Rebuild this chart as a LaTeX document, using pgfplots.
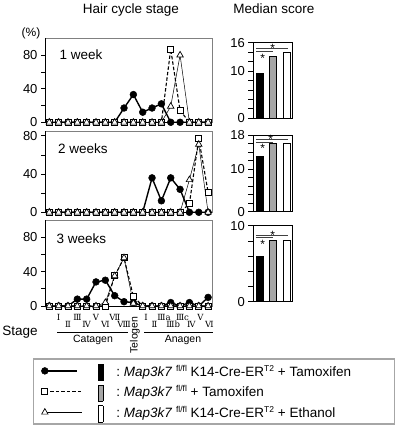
\documentclass[border=0pt]{standalone}
\usepackage{pgfplots}
\pgfplotsset{compat=1.18}
\usepackage{pgfplotstable}
\usepackage{fontspec}
\setmainfont{Liberation Sans}
\newfontfamily\romfont{DejaVu Serif}
\newcommand{\fs}[1]{\fontsize{#1}{#1}\selectfont}
\setlength{\fboxsep}{0pt}
\setlength{\fboxrule}{0.8pt}
\definecolor{bargray}{HTML}{A6A6A6}
\newcommand{\legbar}[1]{\raisebox{-4pt}{\fcolorbox{black}{#1}{\rule{0pt}{15.4pt}\rule{3.4pt}{0pt}}}}
\tikzset{sig/.style={black!75, line width=0.9pt}}

\pgfplotstableread{
x c s t
0 0 0 0
1 0 0 0
2 0 0 0
3 0 0 0
4 0 0 0
5 0 0 0
6 0 0 0
7 0 0 0
8 17 0 0
9 33 0 0
10 12 0 0
11 17 0 0
12 22 0 0
13 0 87 19
14 0 14 80
15 0 0 0
16 0 0 0
17 0 0 0
}\wkone
\pgfplotstableread{
x c s t
0 0 0 0
1 0 0 0
2 0 0 0
3 0 0 0
4 0 0 0
5 0 0 0
6 0 0 0
7 0 0 0
8 0 0 0
9 0 0 0
10 0 0 0
11 36 0 0
12 12 0 0
13 36 0 0
14 24 0 0
15 0 9 34
16 0 77 71
17 0 21 0
}\wktwo
\pgfplotstableread{
x c s t
0 0 0 0
1 0 0 0
2 0 0 0
3 8 0 0
4 8 0 0
5 28 0 0
6 30 0 4
7 12 35 35
8 5 56 56
9 4 11 3
10 0 0 0
11 0 0 0
12 0 0 0
13 4 0 0
14 0 0 0
15 4 0 0
16 0 0 0
17 10 0 0
}\wkthree

\begin{document}
\begin{tikzpicture}[x=1pt,y=1pt]
\path[use as bounding box] (0,0) rectangle (402,439);
\pgfplotsset{
  lp/.style={scale only axis, width=167.3pt, xmin=-0.46, xmax=17.45, ymin=0,
    axis line style={black!50, line width=0.7pt},
    xtick=\empty, ytick={0,40,80}, minor ytick={20,60},
    ytick pos=left, tick align=outside, major tick length=4pt, minor tick length=4pt,
    tick style={black, line width=0.7pt},
    yticklabel style={font=\fs{13}},
    /pgf/number format/assume math mode=true,
    clip=false},
  c1/.style={black, line width=1.4pt, mark=*, mark size=3.4pt, mark options={solid, line width=0.5pt},
    legend image code/.code={\draw[##1, mark repeat=2, mark phase=1] plot coordinates {(0pt,0pt) (32pt,0pt)};}},
  c2/.style={black, line width=1.1pt, dash pattern=on 3.5pt off 2pt, mark=square*, mark size=3pt, mark options={solid, fill=white, line width=0.8pt},
    legend image code/.code={\draw[##1, mark repeat=2, mark phase=1] plot coordinates {(0pt,0pt) (37pt,0pt)};}},
  c3/.style={black, line width=0.5pt, mark=triangle*, mark size=3.7pt, mark options={solid, fill=white, line width=0.7pt},
    legend image code/.code={\draw[##1, mark repeat=2, mark phase=1] plot coordinates {(0pt,0pt) (37pt,0pt)};}},
  rp/.style={scale only axis, width=39.4pt, xmin=-0.5, xmax=2.45, ymin=0,
    axis line style={black, line width=0.9pt}, xtick=\empty, ytick pos=left,
    tick align=outside, major tick length=5pt, minor tick length=5pt,
    tick style={black, line width=0.7pt},
    yticklabel style={font=\fs{13}},
    /pgf/number format/assume math mode=true,
    ybar, bar width=7pt, bar shift=0pt, clip=false},
}

% ---------- left panels ----------
\begin{axis}[lp, at={(45pt,316.7pt)}, anchor=south west, height=84pt, ymax=100]
\draw[black, line width=0.9pt] (rel axis cs:0,1) -- (rel axis cs:0,0) -- (rel axis cs:1,0);
\addplot[c1] table[x=x,y=c] {\wkone};
\addplot[c2] table[x=x,y=s] {\wkone};
\addplot[c3] table[x=x,y=t] {\wkone};
\end{axis}

\begin{axis}[lp, at={(45pt,226.7pt)}, anchor=south west, height=81.3pt, ymax=85]
\draw[black, line width=0.9pt] (rel axis cs:0,1) -- (rel axis cs:0,0) -- (rel axis cs:1,0);
\addplot[c1] table[x=x,y=c] {\wktwo};
\addplot[c2] table[x=x,y=s] {\wktwo};
\addplot[c3] table[x=x,y=t] {\wktwo};
\end{axis}

\begin{axis}[lp, at={(45pt,133pt)}, anchor=south west, height=86pt, ymax=100,
  legend style={at={(axis description cs:-0.0735,-0.608)}, anchor=north west,
    draw=black!35, line width=1.5pt, font=\fs{13.5}, legend cell align=left,
    row sep=3pt, inner xsep=8pt, inner ysep=3pt, nodes={inner sep=2pt},
    /tikz/every odd column/.append style={column sep=14pt}}]
\draw[black, line width=0.9pt] (rel axis cs:0,1) -- (rel axis cs:0,0) -- (rel axis cs:1,0);
\addplot[c1] table[x=x,y=c] {\wkthree};
\addlegendentry{\makebox[286pt][l]{\legbar{black}\hspace{13pt}:\ \textit{Map3k7}\ \raisebox{5pt}{\fs{8.5}fl/fl} K14-Cre-ER\raisebox{5pt}{\fs{8.5}T2} + Tamoxifen}}
\addplot[c2] table[x=x,y=s] {\wkthree};
\addlegendentry{\makebox[286pt][l]{\legbar{bargray}\hspace{13pt}:\ \textit{Map3k7}\ \raisebox{5pt}{\fs{8.5}fl/fl} + Tamoxifen}}
\addplot[c3] table[x=x,y=t] {\wkthree};
\addlegendentry{\makebox[286pt][l]{\legbar{white}\hspace{13pt}:\ \textit{Map3k7}\ \raisebox{5pt}{\fs{8.5}fl/fl} K14-Cre-ER\raisebox{5pt}{\fs{8.5}T2} + Ethanol}}
\end{axis}

% ---------- right panels ----------
\begin{axis}[rp, at={(253.3pt,320.7pt)}, anchor=south west, height=75.6pt, ymax=16,
  ytick={0,10,16}, minor ytick={2,4,6,8,12,14}]
\addplot[fill=black, draw=black, line width=0.8pt] coordinates {(0,9.5)};
\addplot[fill=bargray, draw=black, line width=0.8pt] coordinates {(1,13)};
\addplot[fill=white, draw=black, line width=0.8pt] coordinates {(2,14)};
\draw[sig] (axis cs:-0.3,14.8) -- (axis cs:2.125,14.8);
\draw[sig] (axis cs:-0.3,14.1) -- (axis cs:1.0,14.1);
\node[font=\fs{12}, yshift=-2.6pt] at (axis cs:0.955,15.3) {*};
\node[font=\fs{12}, yshift=-2.6pt] at (axis cs:0.205,13.3) {*};
\end{axis}

\begin{axis}[rp, at={(253.3pt,227.3pt)}, anchor=south west, height=76.7pt, ymax=18,
  ytick={0,10,18}, minor ytick={2,4,6,8,12,14,16}]
\addplot[fill=black, draw=black, line width=0.8pt] coordinates {(0,13)};
\addplot[fill=bargray, draw=black, line width=0.8pt] coordinates {(1,16)};
\addplot[fill=white, draw=black, line width=0.8pt] coordinates {(2,16)};
\draw[sig] (axis cs:-0.3,16.95) -- (axis cs:2.125,16.95);
\draw[sig] (axis cs:-0.3,16.3) -- (axis cs:1.0,16.3);
\node[font=\fs{12}, yshift=-2.6pt] at (axis cs:0.805,17.5) {*};
\node[font=\fs{12}, yshift=-2.6pt] at (axis cs:0.205,15.5) {*};
\end{axis}

\begin{axis}[rp, at={(253.3pt,137.3pt)}, anchor=south west, height=76pt, ymax=10,
  ytick={0,10}, minor ytick={2,4,6,8}]
\addplot[fill=black, draw=black, line width=0.8pt] coordinates {(0,6)};
\addplot[fill=bargray, draw=black, line width=0.8pt] coordinates {(1,8)};
\addplot[fill=white, draw=black, line width=0.8pt] coordinates {(2,8)};
\draw[sig] (axis cs:-0.3,8.78) -- (axis cs:2.125,8.78);
\draw[sig] (axis cs:-0.3,8.42) -- (axis cs:1.0,8.42);
\node[font=\fs{12}, yshift=-2.6pt] at (axis cs:0.955,9.13) {*};
\node[font=\fs{12}, yshift=-2.6pt] at (axis cs:0.205,7.95) {*};
\end{axis}

% ---------- text ----------
\node[font=\fs{13.5}] at (130.8,429) {Hair cycle stage};
\node[font=\fs{13.5}] at (273.8,430.5) {Median score};
\node[font=\fs{12}] at (31,405.7) {(\%)};
\node[font=\fs{13.5}, anchor=west] at (56,384) {1 week};
\node[font=\fs{13.5}, anchor=west] at (54.5,290) {2 weeks};
\node[font=\fs{13.5}, anchor=west] at (53,200) {3 weeks};

\begin{scope}[every node/.style={font=\romfont\fs{8.5}, inner sep=0pt}]
\node at (58.65,121.3) {Ⅰ};
\node at (77.35,121.3) {Ⅲ};
\node at (96.05,121.3) {Ⅴ};
\node at (114.75,121.3) {Ⅶ};
\node at (68.0,114.2) {Ⅱ};
\node at (86.7,114.2) {Ⅳ};
\node at (105.4,114.2) {Ⅵ};
\node at (124.1,114.2) {Ⅷ};
\node at (146.0,121.3) {Ⅰ};
\node at (164.0,121.3) {Ⅲa};
\node at (182.5,121.3) {Ⅲc};
\node at (200.5,121.3) {Ⅴ};
\node at (154.5,114.2) {Ⅱ};
\node at (173.2,114.2) {Ⅲb};
\node at (191.3,114.2) {Ⅳ};
\node at (209.5,114.2) {Ⅵ};
\end{scope}

\node[font=\fs{13.5}] at (20,107.3) {Stage};
\draw[black, line width=1pt] (57,106.3) -- (128,106.3);
\draw[black, line width=1pt] (144,106.3) -- (213,106.3);
\node[font=\fs{10.5}] at (93,99.5) {Catagen};
\node[font=\fs{10.5}] at (183,99.5) {Anagen};
\node[font=\fs{10.5}, rotate=90] at (135,104) {Telogen};
\end{tikzpicture}
\end{document}
